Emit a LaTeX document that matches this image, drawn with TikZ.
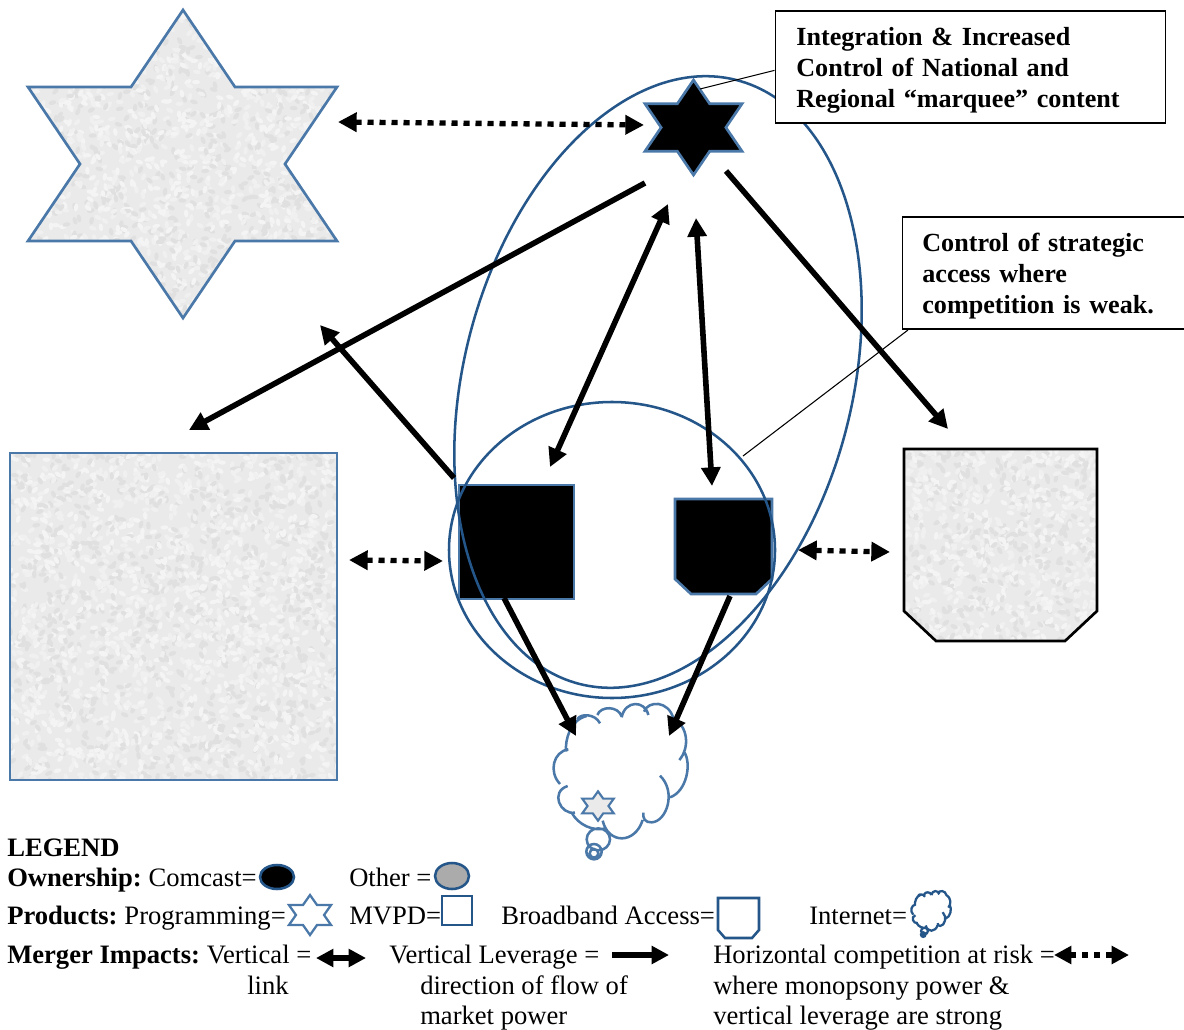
\documentclass[tikz,border=0pt]{standalone}
\usepackage{fontspec}
\setmainfont{Liberation Serif}
\usetikzlibrary{arrows.meta}
\definecolor{ringblue}{HTML}{24568A}
\definecolor{shapeblue}{HTML}{4A78A8}
\definecolor{texbase}{HTML}{EAEAEA}
\definecolor{spkA}{HTML}{F4F4F4}
\definecolor{spkB}{HTML}{E0E0E0}
\definecolor{spkC}{HTML}{F0F0F0}
\tikzset{
  ring/.style={draw=ringblue,line width=1.9pt},
  shapeline/.style={draw=shapeblue,line width=2pt,line join=miter},
  thick arrow/.style={line width=4.2pt,-{Triangle[length=14pt,width=14pt]}},
  thick both/.style={line width=4.2pt,{Triangle[length=14pt,width=14pt]}-{Triangle[length=14pt,width=14pt]}},
  dot both/.style={line width=4pt,dash pattern=on 4.6pt off 4.4pt,{Triangle[length=14pt,width=14pt]}-{Triangle[length=14pt,width=14pt]}},
  leader/.style={draw=black,line width=0.8pt},
  calloutbox/.style={draw=black,line width=1.3pt,fill=white,anchor=north west,font=\fontsize{19.6}{23.4}\selectfont\bfseries,align=left,inner sep=0pt},
  legendtext/.style={anchor=base west,inner sep=0pt,font=\fontsize{19.95}{23.2}\selectfont},
}
\newcommand\hexpath{(0,-1) -- (1/3,-.5) -- (1,-.5) -- (2/3,0) -- (1,.5) -- (1/3,.5) -- (0,1) -- (-1/3,.5) -- (-1,.5) -- (-2/3,0) -- (-1,-.5) -- (-1/3,-.5) -- cycle}
\newcommand\bigstarpath{(183,10) -- (235,87) -- (337,87) -- (285,164) -- (337,241) -- (235,241) -- (183,318) -- (131,241) -- (28,241) -- (80,164) -- (28,87) -- (131,87) -- cycle}
\newcommand\speckle[5]{\foreach \k in {1,...,#5}{%
  \pgfmathsetmacro\spx{#1+rnd*#3}\pgfmathsetmacro\spy{#2+rnd*#4}\pgfmathsetmacro\spa{rnd*180}%
  \pgfmathtruncatemacro\spc{mod(\k,3)}%
  \ifnum\spc=0 \colorlet{spk}{spkA}\fi\ifnum\spc=1 \colorlet{spk}{spkB}\fi\ifnum\spc=2 \colorlet{spk}{spkC}\fi
  \fill[spk,rotate around={\spa:(\spx,\spy)}] (\spx,\spy) ellipse [x radius=4,y radius=2.2];}}
\newcommand\cloudlobes{%
  (172,118) .. controls (180,100) and (225,100) .. (240,130)
  (232,105) .. controls (242,77) and (295,77) .. (305,110)
  (305,112) .. controls (315,60) and (375,60) .. (385,105)
  (372,95) .. controls (385,61) and (445,61) .. (460,115)
  (455,110) .. controls (508,140) and (508,205) .. (478,240)
  (492,215) .. controls (516,250) and (500,335) .. (450,352)
  (420,287) .. controls (470,335) and (440,425) .. (395,427) .. controls (375,428) and (368,415) .. (370,398)
  (368,420) .. controls (345,493) and (265,493) .. (248,422)
  (155,398) .. controls (175,435) and (220,455) .. (258,445)
  (165,398) .. controls (120,405) and (90,335) .. (143,318)
  (120,312) .. controls (85,275) and (100,215) .. (145,208)
  (138,215) .. controls (135,180) and (150,120) .. (200,108)
  (235,478) ellipse [x radius=35,y radius=33]
  (222,515) ellipse [x radius=23,y radius=23]
  (222,520) ellipse [x radius=13,y radius=13]}
\begin{document}
\begin{tikzpicture}[x=0.75pt,y=-0.75pt]
\pgfmathsetseed{4711}
\useasboundingbox (0,0) rectangle (1184,1030);
\fill[white] (0,0) rectangle (1184,1030);

% big star
\begin{scope}
  \clip \bigstarpath;
  \fill[texbase] (20,0) rectangle (345,325);
  \speckle{20}{0}{325}{325}{2300}
\end{scope}
\draw[shapeline] \bigstarpath;

% big square
\begin{scope}
  \clip (10,453) rectangle (337,780);
  \fill[texbase] (10,453) rectangle (337,780);
  \speckle{5}{448}{337}{337}{2600}
\end{scope}
\draw[shapeline] (10,453) rectangle (337,780);

% right pocket
\begin{scope}
  \clip (904,449) -- (1097,449) -- (1097,611) -- (1065,641) -- (936,641) -- (904,611) -- cycle;
  \fill[texbase] (904,449) rectangle (1097,641);
  \speckle{900}{445}{200}{200}{1000}
\end{scope}
\draw[black,line width=2pt] (904,449) -- (1097,449) -- (1097,611) -- (1065,641) -- (936,641) -- (904,611) -- cycle;

% black shapes
\fill[black] (459,485) rectangle (574,599);
\draw[shapeline] (459,485) rectangle (574,599);
\draw[shapeline,fill=black] (675,499) -- (772,499) -- (772,579) -- (756,594) -- (691,594) -- (675,579) -- cycle;
\begin{scope}[shift={(693.5,127.5)},x=36.4pt,y=-35.6pt]
  \draw[shapeline,fill=black] \hexpath;
\end{scope}

% rings
\draw[ring,rotate around={-14.7:(658,382)}] (658,382) ellipse [x radius=194,y radius=312];
\draw[ring] (612,550) ellipse [x radius=163,y radius=148];

% cloud
\begin{scope}[shift={(520,680)},x=0.25pt,y=-0.25pt]
  \draw[draw=shapeblue,line width=1.9pt] \cloudlobes;
\end{scope}
\begin{scope}[shift={(598,806)},x=11.8pt,y=-11pt]
  \draw[draw=shapeblue,line width=1.6pt,fill=texbase] \hexpath;
\end{scope}

% callouts
\node[calloutbox,minimum width=292.5pt,minimum height=84pt,text width=261pt,inner xsep=15.75pt] (box1) at (774.5,10.5)
  {\strut\rule{0pt}{20.9pt}Integration \& Increased\\\strut Control of National and\\\strut Regional “marquee” content};
\node[calloutbox,minimum width=215pt,minimum height=84pt,text width=185pt,inner xsep=15pt] (box2) at (901.5,216.5)
  {\strut\rule{0pt}{20.9pt}Control of strategic\\\strut access where\\\strut competition is weak.};
\coordinate (starleader) at (700,89);
\coordinate (box2leader) at (908,330);
\coordinate (ringleader) at (743,456);
\draw[leader] (box1.west) ++(0,3) -- (starleader);
\draw[leader] (box2leader) -- (ringleader);

% arrows
\coordinate (a1s) at (338,122); \coordinate (a1e) at (644,125);
\coordinate (a2s) at (645,183); \coordinate (a2e) at (189,430);
\coordinate (a3s) at (454,478); \coordinate (a3e) at (320,325);
\coordinate (a4s) at (668,204); \coordinate (a4e) at (550,467);
\coordinate (a5s) at (696,218); \coordinate (a5e) at (712,486);
\coordinate (a6s) at (726,171); \coordinate (a6e) at (948,429);
\coordinate (a7s) at (349,560); \coordinate (a7e) at (443,561);
\coordinate (a8s) at (798,550); \coordinate (a8e) at (890,552);
\coordinate (a9s) at (504,598); \coordinate (a9e) at (576,736);
\coordinate (a10s) at (730,596); \coordinate (a10e) at (669,736);
\draw[dot both] (a1s) -- (a1e);
\draw[thick arrow] (a2s) -- (a2e);
\draw[thick arrow] (a3s) -- (a3e);
\draw[thick both] (a4s) -- (a4e);
\draw[thick both] (a5s) -- (a5e);
\draw[thick arrow] (a6s) -- (a6e);
\draw[dot both] (a7s) -- (a7e);
\draw[dot both] (a8s) -- (a8e);
\draw[thick arrow] (a9s) -- (a9e);
\draw[thick arrow] (a10s) -- (a10e);

% legend text
\node[legendtext] (lg) at (7,856) {\textbf{LEGEND}};
\node[legendtext] (own) at (7,886) {\textbf{Ownership:}\kern-1.5pt{} Comcast=};
\node[legendtext] (oth) at (349,886) {Other =};
\node[legendtext] (prod) at (7,924) {\textbf{Products:}\kern-1.5pt{} Programming=};
\node[legendtext] (mvpd) at (349,924) {MVPD=};
\node[legendtext] (bb) at (501,924) {Broadband Access=};
\node[legendtext] (inet) at (809,924) {Internet=};
\node[legendtext] (mi) at (7,963) {\textbf{Merger Impacts:}\kern-1.5pt{} Vertical =};
\node[legendtext] (lnk) at (247,994) {link};
\node[legendtext] (vl) at (389,963) {Vertical Leverage =};
\node[legendtext] (vl2) at (420,994) {direction of flow of};
\node[legendtext] (vl3) at (420,1024) {market power};
\node[legendtext] (hz) at (713,963) {Horizontal competition at risk =};
\node[legendtext] (hz2) at (713,994) {where monopsony power \&};
\node[legendtext] (hz3) at (713,1024) {vertical leverage are strong};

% legend symbols
\draw[ring,fill=black] (277,877) ellipse [x radius=17,y radius=12];
\draw[ring,fill=black!33] (452,876) ellipse [x radius=17,y radius=13];
\begin{scope}[shift={(310,915)},x=15.8pt,y=-15pt]
  \draw[draw=shapeblue,line width=1.7pt] \hexpath;
\end{scope}
\draw[ring] (442,896) rectangle (472,925);
\draw[ring] (718,898) -- (759,898) -- (759,930) -- (752,938) -- (725,938) -- (718,930) -- cycle;
\begin{scope}[shift={(901.4,884)},x=0.0737pt,y=-0.0737pt]
  \draw[draw=ringblue,line width=1.7pt] \cloudlobes;
\end{scope}
\coordinate (l1s) at (316,958); \coordinate (l1e) at (366,958);
\coordinate (l2s) at (612,955); \coordinate (l2e) at (669,955);
\coordinate (l3s) at (1054,955); \coordinate (l3e) at (1129,955);
\draw[line width=4.2pt,{Triangle[length=13pt,width=13pt]}-{Triangle[length=13pt,width=13pt]}] (l1s) -- (l1e);
\draw[line width=4.2pt,-{Triangle[length=13pt,width=13pt]}] (l2s) -- (l2e);
\draw[line width=4pt,dash pattern=on 4.6pt off 4.4pt,{Triangle[length=13pt,width=13pt]}-{Triangle[length=13pt,width=13pt]}] (l3s) -- (l3e);
\end{tikzpicture}
\end{document}
